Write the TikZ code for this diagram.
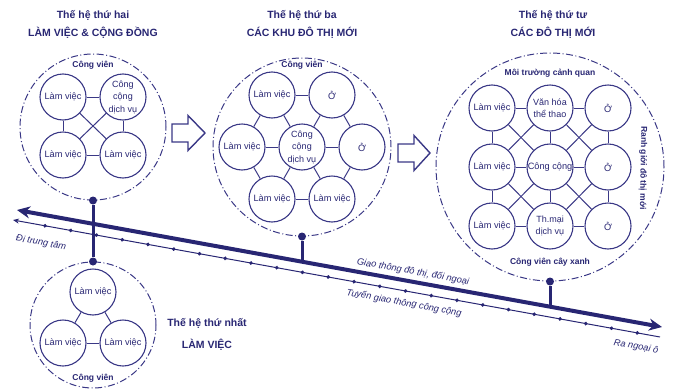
\documentclass[tikz,border=0pt]{standalone}
\usepackage{fontspec}
\setmainfont{Liberation Sans}
\usetikzlibrary{arrows.meta,decorations.markings}
\definecolor{navy}{RGB}{40,38,115}
\definecolor{lnavy}{RGB}{58,56,134}
\begin{document}
\begin{tikzpicture}[x=1pt,y=-1pt,
  unit/.style={circle,draw=lnavy,line width=1.1pt,fill=white,minimum size=46pt,inner sep=0pt,align=center,text=navy,font=\fontsize{9.2}{12}\selectfont},
  zone/.style={circle,draw=lnavy,line width=1pt,dash pattern=on 7pt off 2.5pt on 1pt off 2.5pt,inner sep=0pt},
  link/.style={draw=lnavy,line width=1pt},
  title/.style={text=navy,font=\bfseries\fontsize{10.5}{12}\selectfont},
  park/.style={text=navy,font=\bfseries\fontsize{8.5}{10}\selectfont,inner sep=1pt},
  road/.style={text=navy,font=\itshape\fontsize{9.3}{11}\selectfont,rotate=-10.3},
  pin/.style={circle,fill=navy,inner sep=0pt,minimum size=8pt},
  stem/.style={draw=navy,line width=3pt},
  hollow/.style={draw=lnavy,line width=1.4pt,line join=miter,fill=white},
  ]
\useasboundingbox (0,0) rectangle (675,391);

% ---------- zones ----------
\node[zone,minimum size=146pt] (z2) at (93,127) {};
\node[zone,minimum size=178pt] (z3) at (302,147) {};
\node[zone,minimum size=228pt] (z4) at (550,167) {};
\node[zone,minimum size=126pt] (z1) at (93,325) {};

% ---------- titles ----------
\node[title] (t2a) at (93,15) {Thế hệ thứ hai};
\node[title] (t2b) at (93,33) {LÀM VIỆC \& CỘNG ĐỒNG};
\node[title] (t3a) at (302,15) {Thế hệ thứ ba};
\node[title] (t3b) at (302,33) {CÁC KHU ĐÔ THỊ MỚI};
\node[title] (t4a) at (553,15) {Thế hệ thứ tư};
\node[title] (t4b) at (553,33) {CÁC ĐÔ THỊ MỚI};
\node[title] (t1a) at (207,323) {Thế hệ thứ nhất};
\node[title] (t1b) at (207,345) {LÀM VIỆC};

% ---------- generation 2 ----------
\node[unit] (a1) at (63,97) {Làm việc};
\node[unit,font=\fontsize{9}{12.5}\selectfont] (a2) at (123,97) {Công\\cộng\\dịch vụ};
\node[unit] (a3) at (63,155) {Làm việc};
\node[unit] (a4) at (123,155) {Làm việc};
\draw[link] (a1) -- (a2);
\draw[link] (a3) -- (a4);
\draw[link] (a1) -- (a3);
\draw[link] (a2) -- (a4);
\draw[link] (a1) -- (a4);
\draw[link] (a2) -- (a3);

% ---------- generation 3 ----------
\node[unit,font=\fontsize{9}{12.5}\selectfont] (bc) at (302,147) {Công\\cộng\\dịch vụ};
\node[unit] (b1) at (272,95) {Làm việc};
\node[unit] (b2) at (332,95) {Ở};
\node[unit] (b3) at (362,147) {Ở};
\node[unit] (b4) at (332,199) {Làm việc};
\node[unit] (b5) at (272,199) {Làm việc};
\node[unit] (b6) at (242,147) {Làm việc};
\foreach \i in {1,...,6} {\draw[link] (bc) -- (b\i);}
\draw[link] (b1) -- (b2);
\draw[link] (b2) -- (b3);
\draw[link] (b3) -- (b4);
\draw[link] (b4) -- (b5);
\draw[link] (b5) -- (b6);
\draw[link] (b6) -- (b1);

% ---------- generation 4 ----------
\node[unit] (c11) at (492,108) {Làm việc};
\node[unit,font=\fontsize{9}{12.5}\selectfont] (c12) at (550,108) {Văn hóa\\thể thao};
\node[unit] (c13) at (608,108) {Ở};
\node[unit] (c21) at (492,167) {Làm việc};
\node[unit] (c22) at (550,167) {Công cộng};
\node[unit] (c23) at (608,167) {Ở};
\node[unit] (c31) at (492,226) {Làm việc};
\node[unit,font=\fontsize{9}{12.5}\selectfont] (c32) at (550,226) {Th.mại\\dịch vụ};
\node[unit] (c33) at (608,226) {Ở};
\foreach \r in {1,2,3} {
  \draw[link] (c\r1) -- (c\r2);
  \draw[link] (c\r2) -- (c\r3);
  \draw[link] (c1\r) -- (c2\r);
  \draw[link] (c2\r) -- (c3\r);
}
\foreach \r/\s in {1/2,2/3} {
  \foreach \c/\d in {1/2,2/3} {
    \draw[link] (c\r\c) -- (c\s\d);
    \draw[link] (c\r\d) -- (c\s\c);
  }
}

% ---------- generation 1 ----------
\node[unit] (d1) at (93,292) {Làm việc};
\node[unit] (d2) at (63,343) {Làm việc};
\node[unit] (d3) at (123,343) {Làm việc};
\draw[link] (d1) -- (d2);
\draw[link] (d1) -- (d3);
\draw[link] (d2) -- (d3);

% ---------- park labels ----------
\node[park] (p2) at (93,65) {Công viên};
\node[park] (p3) at (302,65) {Công viên};
\node[park] (p4a) at (550,73) {Môi trường cảnh quan};
\node[park] (p4b) at (550,262) {Công viên cây xanh};
\node[park] (p1) at (93,378) {Công viên};
\node[park,rotate=-91] (rg) at (643,168) {Ranh giới đô thị mới};

% ---------- hollow arrows ----------
\draw[hollow] (172,124) -- (188,124) -- (188,115.5) -- (205,133) -- (188,150.5) -- (188,142) -- (172,142) -- cycle;
\draw[hollow] (398,144) -- (414,144) -- (414,135.5) -- (430,153) -- (414,170.5) -- (414,162) -- (398,162) -- cycle;

% ---------- transport lines ----------
\coordinate (T1) at (13,220);
\coordinate (T2) at (660,337);
\draw[navy,line width=1pt,{Stealth[length=6pt,width=5pt]}-,
  postaction={decorate},
  decoration={markings,mark=between positions 32.5pt and 640pt step 26.17pt with {\fill[navy] (0,-2pt) -- (2pt,0) -- (0,2pt) -- (-2pt,0) -- cycle;}}]
  (T1) -- (T2);

\coordinate (L1) at (17,210);
\coordinate (L2) at (662,327);
\draw[navy,line width=4pt,{Stealth[length=13pt,width=12pt]}-{Stealth[length=13pt,width=12pt]}] (L1) -- (L2);

% ---------- pins ----------
\node[pin] (q2) at (z2.south) {};
\node[pin] (q1) at (z1.north) {};
\draw[stem] (q2) -- (q1);
\node[pin] (q3) at (z3.south) {};
\coordinate (j3) at (302,261.6);
\draw[stem] (q3) -- (j3);
\node[pin] (q4) at (z4.south) {};
\coordinate (j4) at (550,306.7);
\draw[stem] (q4) -- (j4);

% ---------- road labels ----------
\node[road] (r1) at (413,272) {Giao thông đô thị, đối ngoại};
\node[road] (r2) at (404,303) {Tuyến giao thông công cộng};
\node[road] (r3) at (41,243) {Đi trung tâm};
\node[road] (r4) at (636,347) {Ra ngoại ô};
\end{tikzpicture}
\end{document}
